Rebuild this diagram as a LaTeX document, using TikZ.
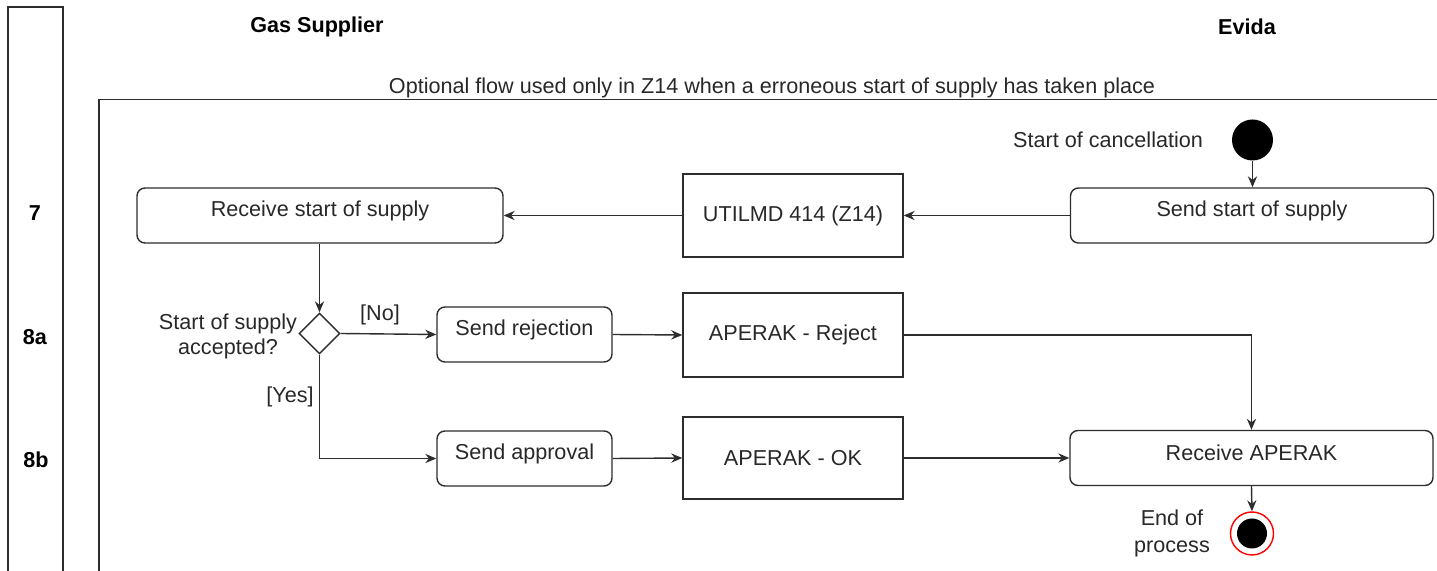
\documentclass[tikz,border=0pt]{standalone}
\usepackage{fontspec}
\setmainfont{Liberation Sans}
\usetikzlibrary{shapes.geometric,arrows.meta}
\definecolor{ln}{RGB}{45,45,45}
\definecolor{tx}{RGB}{40,40,40}
\tikzset{
  every node/.style={font=\fontsize{10.8}{12.5}\selectfont, text=tx},
  rbox/.style={draw=ln, line width=0.7pt, rounded corners=4pt, inner sep=0pt},
  sbox/.style={draw=ln, line width=0.7pt, inner sep=0pt},
  conn/.style={draw=ln, line width=0.7pt, -{Stealth[length=5.5pt,width=4.6pt]}},
  hdr/.style={font=\bfseries\fontsize{10.8}{12.5}\selectfont, text=black},
  plain/.style={draw=ln, line width=0.7pt},
}
\begin{document}
\begin{tikzpicture}[x=0.5pt,y=-0.5pt]
\useasboundingbox (0,0) rectangle (1437,571);
% lanes
\draw[plain] (8,575) -- (8,7) -- (63,7) -- (63,575);
\node[hdr] (n7) at (35,213) {7};
\node[hdr] (n8a) at (35,337) {8a};
\node[hdr] (n8b) at (36,460) {8b};
\node[hdr] (gs) at (317,27) {Gas Supplier};
\node[hdr] (ev) at (1247,27) {Evida};
% frame
\draw[plain] (99,575) -- (99,99.5) -- (1440,99.5);
\node (title) at (772,88) {Optional flow used only in Z14 when a erroneous start of supply has taken place};
% nodes
\node[circle, fill=black, minimum size=20.5pt, inner sep=0pt] (start) at (1252.5,140) {};
\node[anchor=east] (startlbl) at (1210,140) {Start of cancellation};
\node[rbox, minimum width=181.5pt, minimum height=27.5pt, label={[yshift=2.5pt]center:Send start of supply}] (ssos) at (1252,215.5) {};
\node[sbox, minimum width=110pt, minimum height=41.5pt] (utilmd) at (793,215.5) {UTILMD 414 (Z14)};
\node[rbox, minimum width=183pt, minimum height=27.5pt, label={[yshift=2.5pt]center:Receive start of supply}] (rsos) at (320,215.5) {};
\node[diamond, draw=ln, line width=0.7pt, minimum width=20.5pt, minimum height=20.5pt, inner sep=0pt, aspect=1] (dec) at (319.5,333.5) {};
\node[align=center] (declbl) at (228,336) {Start of supply\\accepted?};
\node[rbox, minimum width=87.5pt, minimum height=27.5pt, label={[yshift=2.5pt]center:Send rejection}] (srej) at (524.5,334.5) {};
\node[sbox, minimum width=110pt, minimum height=42pt] (arej) at (793,335) {APERAK - Reject};
\node[rbox, minimum width=87.5pt, minimum height=27.5pt, label={[yshift=2.5pt]center:Send approval}] (sapp) at (524.5,458.5) {};
\node[sbox, minimum width=110pt, minimum height=41pt] (aok) at (793,458) {APERAK - OK};
\node[rbox, minimum width=181.5pt, minimum height=27.5pt, label={[yshift=2.5pt]center:Receive APERAK}] (rap) at (1251.5,458) {};
\node[circle, draw=red, line width=0.7pt, fill=white, minimum size=21.5pt, inner sep=0pt,
  path picture={\fill[black] (path picture bounding box.center) circle (7.5pt);}] (end) at (1252,533.5) {};
\node[align=center, font=\fontsize{10.8}{13.5}\selectfont] (endlbl) at (1172,533) {End of\\process};
\node (nolbl) at (380,315) {[No]};
\node (yeslbl) at (290,397) {[Yes]};
% connectors
\draw[conn] (start) -- (start |- ssos.north);
\draw[conn] (ssos.west) -- (utilmd.east);
\draw[conn] (utilmd.west) -- (rsos.east);
\draw[conn] (dec.north |- rsos.south) -- (dec.north);
\draw[conn] (dec.east) -- (srej.west);
\draw[conn] (srej.east) -- (arej.west);
\draw[conn] (arej.east) -| (rap.north);
\draw[conn] (dec.south) |- (sapp.west);
\draw[conn] (sapp.east) -- (aok.west);
\draw[conn] (aok.east) -- (rap.west);
\draw[conn] (rap.south) -- (end.north);
\end{tikzpicture}
\end{document}
